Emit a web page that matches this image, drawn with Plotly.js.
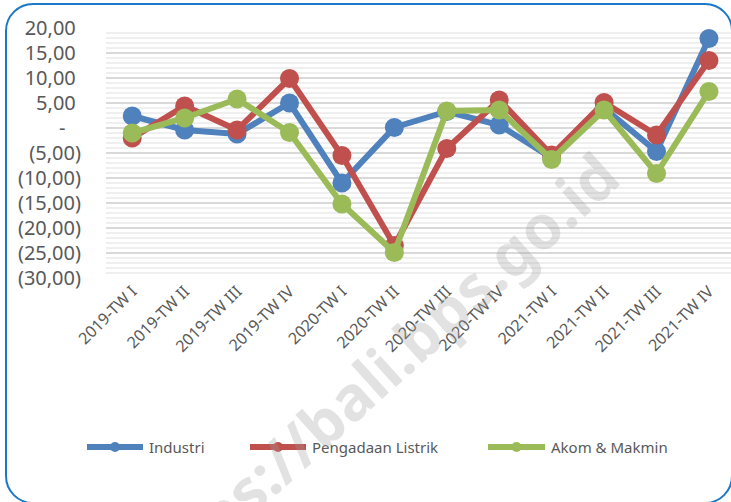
<!DOCTYPE html>
<html>
<head>
<meta charset="utf-8">
<script src="https://cdn.plot.ly/plotly-3.0.1.min.js"></script>
<style>
  html, body { margin: 0; padding: 0; background: #ffffff; overflow: hidden; }
  #chart { position: absolute; left: 0; top: 0; width: 731px; height: 502px; }
  #frame { position: absolute; left: 5px; top: 3px; width: 724px; height: 497px;
           border: 2px solid #1b78c8; border-radius: 28px; pointer-events: none; }
</style>
</head>
<body>
<div id="chart"></div>
<div id="frame"></div>
<script>
// ---- data ----
const categories = ["2019-TW I","2019-TW II","2019-TW III","2019-TW IV",
                    "2020-TW I","2020-TW II","2020-TW III","2020-TW IV",
                    "2021-TW I","2021-TW II","2021-TW III","2021-TW IV"];
const industri = [2.4, -0.4, -1.2, 5.0, -11.0, 0.1, 3.3, 0.6, -6.0, 4.0, -4.7, 17.9];
const listrik  = [-2.0, 4.4, -0.4, 9.9, -5.5, -23.5, -4.1, 5.6, -5.4, 5.1, -1.4, 13.5];
const akom     = [-1.0, 2.0, 5.8, -0.9, -15.2, -24.9, 3.4, 3.6, -6.3, 3.6, -9.1, 7.3];
const seriesNames = ["Industri", "Pengadaan Listrik", "Akom & Makmin"];
const yTickVals = [-30, -25, -20, -15, -10, -5, 0, 5, 10, 15, 20];
const yTickText = ["(30,00)","(25,00)","(20,00)","(15,00)","(10,00)","(5,00)","-","5,00","10,00","15,00","20,00"];
const watermark = "https://bali.bps.go.id";

// ---- styles ----
const colors = ["#4F81BD", "#C0504D", "#9BBB59"];
const values = [industri, listrik, akom];
const FONT = "Noto Sans, Open Sans, sans-serif";
const TXT = "#595959";
const NB = "\u00a0";

// accounting-style padding of tick labels (positives get trailing space like ")")
const yTickShown = yTickText.map(t => t === "-" ? "-" + NB + NB + NB : (t.endsWith(")") ? t : t + NB));

// plot area in pixels (for placing legend / watermark)
const L = 106, R = 731, T = 28, B = 278;
const px = X => (X - L) / (R - L);
const py = Y => (B - Y) / (B - T);

const traces = values.map((v, i) => ({
  type: "scatter",
  mode: "lines+markers",
  x: categories,
  y: v,
  name: seriesNames[i],
  line: { color: colors[i], width: 6 },
  marker: { color: colors[i], size: 19 },
  cliponaxis: false,
  showlegend: false
}));

// custom legend (Excel style)
const legendY = 447;
const legendItems = [
  { x0: 87,  x1: 143, tx: 147 },
  { x0: 250, x1: 306, tx: 310 },
  { x0: 488, x1: 545, tx: 549 }
];
const shapes = [];
const annotations = [];
legendItems.forEach((it, i) => {
  shapes.push({ type: "line", xref: "paper", yref: "paper",
    x0: px(it.x0), x1: px(it.x1), y0: py(legendY), y1: py(legendY),
    line: { color: colors[i], width: 6 } });
  const cx = (it.x0 + it.x1) / 2;
  shapes.push({ type: "circle", xref: "paper", yref: "paper",
    x0: px(cx - 5), x1: px(cx + 5), y0: py(legendY + 5), y1: py(legendY - 5),
    fillcolor: colors[i], line: { color: colors[i], width: 0 } });
  annotations.push({ xref: "paper", yref: "paper", x: px(it.tx), y: py(legendY),
    xanchor: "left", yanchor: "middle", showarrow: false, text: seriesNames[i],
    font: { family: FONT, size: 15, color: TXT } });
});
// watermark
annotations.push({ xref: "paper", yref: "paper", x: px(372), y: py(376),
  xanchor: "center", yanchor: "middle", showarrow: false, text: "<b>" + watermark + "</b>",
  textangle: -42, font: { family: FONT, size: 61, color: "rgba(160,160,160,0.30)" } });

const layout = {
  width: 731, height: 502,
  margin: { l: L, r: 731 - R, t: T, b: 502 - B, pad: 0 },
  paper_bgcolor: "#ffffff", plot_bgcolor: "#ffffff",
  showlegend: false,
  xaxis: {
    type: "category",
    range: [-0.5, -0.5 + (R - L) / 52.43],
    showgrid: false, zeroline: false, showline: false,
    tickangle: -45, ticks: "",
    tickfont: { family: FONT, size: 16, color: TXT },
    fixedrange: true
  },
  yaxis: {
    range: [-30, 20],
    tickvals: yTickVals, ticktext: yTickShown,
    showgrid: true, gridcolor: "#d9d9d9", gridwidth: 2,
    minor: { dtick: 1, tick0: 0, showgrid: true, gridcolor: "#efefef", gridwidth: 1.5 },
    zeroline: false, showline: false,
    ticks: "outside", ticklen: 20, tickcolor: "rgba(0,0,0,0)",
    tickfont: { family: FONT, size: 20, color: TXT },
    fixedrange: true
  },
  shapes: shapes,
  annotations: annotations
};

Plotly.newPlot("chart", traces, layout, { staticPlot: true, displayModeBar: false });
</script>
</body>
</html>
